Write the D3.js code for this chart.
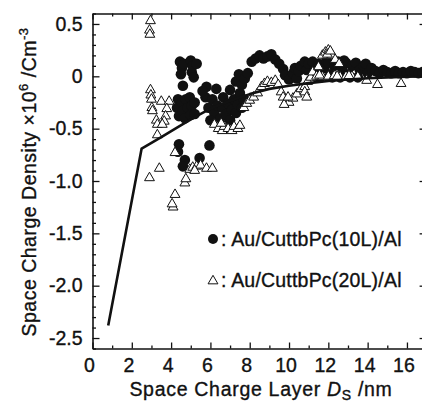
<!DOCTYPE html>
<html>
<head>
<meta charset="utf-8">
<script src="https://cdn.jsdelivr.net/npm/d3@7"></script>
<style>
  body { margin: 0; background: #fff; }
  svg { display: block; font-family: "Liberation Sans", Arial, sans-serif; }
  svg text { stroke: #111; stroke-width: 0.35px; }
</style>
</head>
<body>
<svg id="chart" width="422" height="402"></svg>
<script>
// tick labels
const xTicks = [0, 2, 4, 6, 8, 10, 12, 14, 16];
const yTicks = [0.5, 0, -0.5, -1.0, -1.5, -2.0, -2.5];
const yTickLabels = ["0.5", "0", "-0.5", "-1.0", "-1.5", "-2.0", "-2.5"];

// Au/CuttbPc(10L)/Al  (filled circles)
const series10L = [
  [4.45, 0.14], [4.55, 0.08], [4.5, 0.02], [4.65, 0.12], [5.0, 0.15], [5.1, 0.1], [5.05, 0.04],
  [5.15, -0.01], [4.6, -0.09], [5.3, 0.12], [5.8, -0.1], [5.75, -0.2], [5.6, -0.14],
  [4.35, -0.22], [4.3, -0.3], [4.4, -0.38], [4.55, -0.25], [4.6, -0.33], [4.75, -0.22],
  [4.85, -0.3], [4.7, -0.4], [4.95, -0.2], [5.05, -0.28], [5.0, -0.37], [5.2, -0.25], [5.2, -0.36],
  [5.9, -0.3], [6.1, -0.22], [6.2, -0.35], [6.35, -0.28], [6.5, -0.4], [6.6, -0.3], [6.65, -0.2],
  [6.8, -0.36], [6.9, -0.26], [7.0, -0.42], [7.1, -0.32], [7.2, -0.22], [7.3, -0.35], [7.4, -0.27],
  [7.5, -0.16], [7.6, -0.3], [7.7, -0.22], [6.3, -0.12], [6.0, -0.42], [7.0, -0.13],
  [7.3, -0.05], [7.45, 0.02], [7.6, -0.08], [7.75, -0.02], [7.9, 0.03],
  [8.1, 0.14], [8.3, 0.17], [8.5, 0.2], [8.7, 0.17], [8.9, 0.19], [9.1, 0.21], [9.3, 0.16],
  [9.5, 0.12], [9.7, 0.07], [9.8, 0.01], [10.0, -0.03], [10.2, 0.03], [10.4, -0.02],
  [10.3, 0.08], [10.5, 0.05], [10.6, 0.1],
  [10.8, 0.14], [10.9, 0.06], [11.0, 0.12], [11.2, 0.14], [11.3, 0.05], [11.5, 0.12], [11.6, -0.01],
  [11.8, 0.08], [11.9, 0.15], [12.0, 0.13], [12.1, 0.02], [12.3, 0.1], [12.5, 0.14], [12.6, -0.01],
  [12.7, 0.08], [12.8, 0.15], [12.9, 0.13], [13.0, 0.02], [13.2, 0.1], [13.4, 0.13], [13.5, -0.01],
  [13.6, 0.06], [13.8, 0.1], [13.9, 0.12], [14.0, 0.03], [11.4, -0.01], [12.2, -0.01], [13.1, -0.01],
  [14.2, 0.08], [14.4, 0.05], [14.6, 0.03], [14.8, 0.06], [15.0, 0.04], [15.2, 0.03], [15.4, 0.05],
  [15.6, 0.03], [15.8, 0.04], [16.0, 0.03], [16.2, 0.05], [16.4, 0.04], [16.6, 0.03], [16.8, 0.04],
  [4.4, -0.65], [4.35, -0.72], [4.7, -0.8], [4.6, -0.86], [5.45, -0.78], [5.95, -0.66]
];

// Au/CuttbPc(20L)/Al  (open triangles)
const series20L = [
  [2.95, 0.53], [2.9, 0.44], [2.92, 0.4],
  [2.95, -0.13], [2.97, -0.18], [3.0, -0.22], [3.02, -0.3], [3.05, -0.33], [3.25, -0.42],
  [3.3, -0.46], [3.3, -0.56], [3.5, -0.24], [3.9, -0.24], [3.78, -0.31], [3.72, -0.38],
  [3.65, -0.43], [3.55, -0.46],
  [2.9, -0.97], [3.4, -0.88], [4.2, -0.73], [4.7, -1.02], [4.75, -0.98], [4.2, -1.13],
  [4.1, -1.25], [4.05, -1.22],
  [4.95, -0.89], [5.1, -0.87], [5.3, -0.86], [5.5, -0.85], [5.8, -0.88], [6.1, -0.88], [5.2, -0.9],
  [6.2, -0.46], [6.4, -0.5], [6.6, -0.52], [6.7, -0.48], [6.9, -0.5], [7.1, -0.52], [7.2, -0.48],
  [7.4, -0.5], [7.5, -0.47], [6.55, -0.45],
  [7.7, -0.3], [7.85, -0.26], [8.0, -0.23], [8.2, -0.2], [8.4, -0.16], [8.6, -0.1], [8.75, -0.07],
  [8.9, -0.05], [9.1, -0.06], [9.3, -0.04], [9.45, -0.08], [9.6, -0.15], [9.7, -0.2], [9.85, -0.24],
  [10.0, -0.25], [10.2, -0.21], [10.4, -0.17], [10.6, -0.12], [10.8, -0.1], [10.95, -0.05],
  [9.75, -0.27], [9.95, -0.2],
  [11.1, -0.01], [11.2, 0.04], [11.5, 0.09], [11.7, 0.2], [11.85, 0.23], [12.0, 0.25], [12.2, 0.2],
  [12.35, 0.16], [12.55, 0.12], [11.95, 0.21], [12.1, 0.24],
  [11.4, 0.0], [11.7, -0.005], [12.0, 0.0], [12.3, 0.005], [12.6, -0.005], [12.9, 0.0], [13.2, 0.0],
  [13.5, -0.005], [11.55, 0.01], [12.45, 0.0], [13.05, 0.005],
  [10.8, -0.15], [10.9, -0.2],
  [13.95, -0.04], [14.5, -0.08], [15.7, -0.07]
];

// fitted curve
const curveX = [0.8, 2.5, 3.5, 4.3, 5.2, 6.1, 6.9, 8.0, 9.0, 10.0, 11.0, 12.0, 13.0, 14.0, 15.0, 16.0, 17.0];
const curveY = [-2.38, -0.69, -0.58, -0.49, -0.39, -0.3, -0.24, -0.17, -0.12, -0.09, -0.065, -0.045, -0.03, -0.018, -0.01, -0.004, 0.0];

const W = 422, H = 402;
const svg = d3.select('#chart');
svg.append('rect').attr('width', W).attr('height', H).attr('fill', '#fff');

const x = d3.scaleLinear().domain([0, 17]).range([92.5, 426.6]);
const y = d3.scaleLinear().domain([-2.6, 0.6]).range([348.5, 13.5]);

const ink = '#111';
const fontSize = 19.5;

// plot area clip
svg.append('clipPath').attr('id', 'plotClip')
  .append('rect')
  .attr('x', x.range()[0]).attr('y', y.range()[1])
  .attr('width', x.range()[1] - x.range()[0]).attr('height', y.range()[0] - y.range()[1]);

const plot = svg.append('g').attr('clip-path', 'url(#plotClip)');

// circles first, triangles on top
plot.append('g').selectAll('circle')
  .data(series10L)
  .join('circle')
  .attr('cx', d => x(d[0]))
  .attr('cy', d => y(d[1]))
  .attr('r', 5.3)
  .attr('fill', ink);

const tri = d3.symbol().type(d3.symbolTriangle).size(42);
plot.append('g').selectAll('path')
  .data(series20L)
  .join('path')
  .attr('d', tri)
  .attr('transform', d => `translate(${x(d[0])},${y(d[1])})`)
  .attr('fill', '#fff')
  .attr('stroke', ink)
  .attr('stroke-width', 1);

const line = d3.line().x(d => x(d[0])).y(d => y(d[1]));
plot.append('path')
  .datum(curveX.map((v, i) => [v, curveY[i]]))
  .attr('d', line)
  .attr('fill', 'none')
  .attr('stroke', ink)
  .attr('stroke-width', 2.6)
  .attr('stroke-linejoin', 'round');

// axes (ticks inward)
const xMinor = d3.range(0, 18, 1).filter(v => v % 2 !== 0);
const yMinor = d3.range(-26, 7, 1).map(v => v / 10).filter(v => Math.abs(v * 2 - Math.round(v * 2)) > 1e-6);

function styleAxis(g) {
  g.select('.domain').attr('stroke', ink).attr('stroke-width', 1.6);
  g.selectAll('.tick line').attr('stroke', ink).attr('stroke-width', 1.3);
}

const bottom = svg.append('g').attr('transform', `translate(0,${y.range()[0]})`)
  .call(d3.axisBottom(x).tickValues(xTicks).tickSizeInner(-6).tickSizeOuter(0).tickPadding(10))
  .call(styleAxis);
bottom.selectAll('.tick text')
  .attr('font-size', fontSize).attr('fill', ink).attr('font-family', null).attr('dx', -3.5);
svg.append('g').attr('transform', `translate(0,${y.range()[0]})`)
  .call(d3.axisBottom(x).tickValues(xMinor).tickSizeInner(-3).tickSizeOuter(0).tickFormat(''))
  .call(styleAxis).select('.domain').remove();

svg.append('g').attr('transform', `translate(0,${y.range()[1]})`)
  .call(d3.axisTop(x).tickValues(xTicks).tickSizeInner(-6).tickSizeOuter(0).tickFormat(''))
  .call(styleAxis);
svg.append('g').attr('transform', `translate(0,${y.range()[1]})`)
  .call(d3.axisTop(x).tickValues(xMinor).tickSizeInner(-3).tickSizeOuter(0).tickFormat(''))
  .call(styleAxis).select('.domain').remove();

const left = svg.append('g').attr('transform', `translate(${x.range()[0]},0)`)
  .call(d3.axisLeft(y).tickValues(yTicks).tickSizeInner(-7).tickSizeOuter(0).tickPadding(10)
    .tickFormat((d, i) => yTickLabels[i]))
  .call(styleAxis);
left.selectAll('.tick text')
  .attr('font-size', fontSize).attr('fill', ink).attr('font-family', null);
svg.append('g').attr('transform', `translate(${x.range()[0]},0)`)
  .call(d3.axisLeft(y).tickValues(yMinor).tickSizeInner(-3.5).tickSizeOuter(0).tickFormat(''))
  .call(styleAxis).select('.domain').remove();

svg.append('g').attr('transform', `translate(${x.range()[1]},0)`)
  .call(d3.axisRight(y).tickValues(yTicks).tickSizeInner(-7).tickSizeOuter(0).tickFormat(''))
  .call(styleAxis);

// axis titles
const xt = svg.append('text')
  .attr('x', 261).attr('y', 396)
  .attr('text-anchor', 'middle')
  .attr('font-size', fontSize).attr('fill', ink)
  .attr('letter-spacing', 0.7);
xt.append('tspan').text('Space Charge Layer ');
xt.append('tspan').attr('font-style', 'italic').text('D');
xt.append('tspan').attr('font-size', 14).attr('dy', 4).text('S');
xt.append('tspan').attr('dy', -4).text(' /nm');

const yt = svg.append('text')
  .attr('transform', 'translate(36,182) rotate(-90)')
  .attr('text-anchor', 'middle')
  .attr('font-size', fontSize).attr('fill', ink)
  .attr('letter-spacing', 0.5);
yt.append('tspan').text('Space Charge Density \u00d710');
yt.append('tspan').attr('font-size', 13).attr('dy', -8).text('6');
yt.append('tspan').attr('dy', 8).text(' /Cm');
yt.append('tspan').attr('font-size', 13).attr('dy', -8).text('-3');

// legend
const legend = svg.append('g');
legend.append('circle').attr('cx', 213).attr('cy', 239).attr('r', 5).attr('fill', ink);
legend.append('text').attr('x', 221).attr('y', 246)
  .attr('font-size', fontSize).attr('fill', ink).attr('letter-spacing', 0.2)
  .text(': Au/CuttbPc(10L)/Al');
legend.append('path').attr('d', tri).attr('transform', 'translate(213,281)')
  .attr('fill', '#fff').attr('stroke', ink).attr('stroke-width', 1);
legend.append('text').attr('x', 221).attr('y', 287)
  .attr('font-size', fontSize).attr('fill', ink).attr('letter-spacing', 0.2)
  .text(': Au/CuttbPc(20L)/Al');
</script>
</body>
</html>
